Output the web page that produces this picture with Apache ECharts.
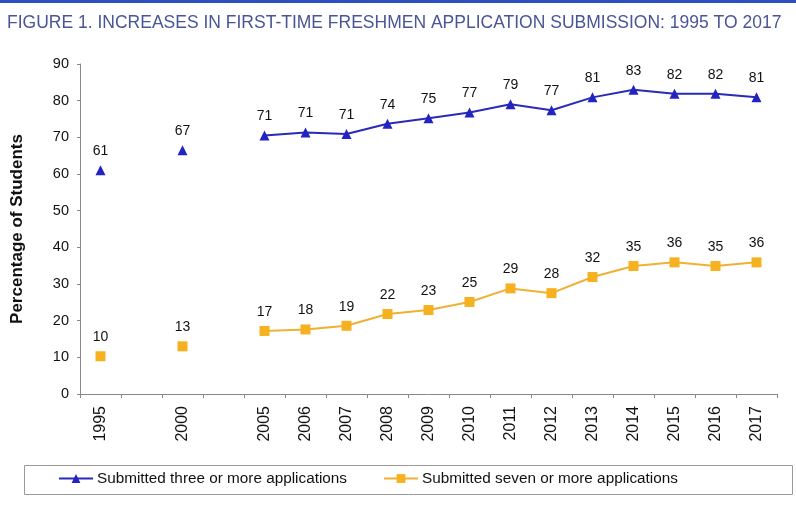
<!DOCTYPE html>
<html><head><meta charset="utf-8">
<script src="https://cdn.jsdelivr.net/npm/echarts@6/dist/echarts.min.js"></script>
<style>html,body{margin:0;padding:0;background:#fff}#c{width:796px;height:505px}</style>
</head><body><div id="c"></div>
<script>
const categories = ['1995','','2000','','2005','2006','2007','2008','2009','2010','2011','2012','2013','2014','2015','2016','2017'];
const threeOrMore = [61, null, 66.5, null, 70.5, 71.3, 70.9, 73.7, 75.2, 76.8, 79.0, 77.4, 80.9, 83.0, 81.9, 81.9, 80.9];
const sevenOrMore = [10.3, null, 13.0, null, 17.2, 17.6, 18.6, 21.8, 22.9, 25.1, 28.8, 27.5, 31.9, 34.9, 35.9, 34.9, 35.9];
const yTicks = {min: 0, max: 90, interval: 10};

const chart = echarts.init(document.getElementById('c'));
const lbl = {show: true, position: 'top', distance: 7, color: '#111', fontSize: 14, fontFamily: 'Liberation Sans, Arial', formatter: p => Math.round(p.value)};
chart.setOption({
  backgroundColor: '#fff',
  animation: false,
  title: {
    text: 'FIGURE 1. INCREASES IN FIRST-TIME FRESHMEN APPLICATION SUBMISSION: 1995 TO 2017',
    left: 7, top: 14, padding: 0,
    textStyle: {color: '#4a5596', fontSize: 17.5, fontWeight: 'normal', fontFamily: 'Liberation Sans, Arial'}
  },
  graphic: [
    {type: 'rect', left: 0, top: 0, shape: {width: 796, height: 3}, style: {fill: '#2f4fc0'}},
    {type: 'rect', left: 22, top: 463, shape: {width: 768, height: 29}, style: {fill: 'none', stroke: '#999', lineWidth: 1}}
  ],
  legend: {
    left: 58, top: 471, padding: 0, itemWidth: 34, itemHeight: 11, itemGap: 36,
    textStyle: {color: '#111', fontSize: 15.3, fontFamily: 'Liberation Sans, Arial', padding: [0, 0, 0, -1]},
    data: ['Submitted three or more applications', 'Submitted seven or more applications']
  },
  grid: {left: 80, right: 19, top: 64, bottom: 111},
  xAxis: {
    type: 'category', data: categories, boundaryGap: true,
    axisLine: {lineStyle: {color: '#888', width: 1}},
    axisTick: {show: true, interval: 0, length: 4, lineStyle: {color: '#888'}},
    axisLabel: {interval: 0, rotate: 90, color: '#111', fontSize: 16, margin: 12, fontFamily: 'Liberation Sans, Arial'}
  },
  yAxis: {
    type: 'value', min: yTicks.min, max: yTicks.max, interval: yTicks.interval,
    name: 'Percentage of Students', nameLocation: 'middle', nameGap: 54, nameRotate: 90,
    nameTextStyle: {color: '#111', fontSize: 17, fontWeight: 'bold', fontFamily: 'Liberation Sans, Arial'},
    axisLine: {show: true, lineStyle: {color: '#888'}},
    axisTick: {show: true, length: 3, lineStyle: {color: '#888'}},
    splitLine: {show: false},
    axisLabel: {color: '#111', fontSize: 14.5, margin: 11, fontFamily: 'Liberation Sans, Arial'}
  },
  series: [
    {name: 'Submitted three or more applications', type: 'line', data: threeOrMore,
     symbol: 'triangle', symbolSize: 10, showAllSymbol: true, connectNulls: false,
     itemStyle: {color: '#2323c2'}, lineStyle: {color: '#2a2ab8', width: 2}, label: lbl},
    {name: 'Submitted seven or more applications', type: 'line', data: sevenOrMore,
     symbol: 'rect', symbolSize: 10, showAllSymbol: true, connectNulls: false,
     itemStyle: {color: '#f5b120'}, lineStyle: {color: '#f0b034', width: 2}, label: lbl}
  ]
});
</script></body></html>
